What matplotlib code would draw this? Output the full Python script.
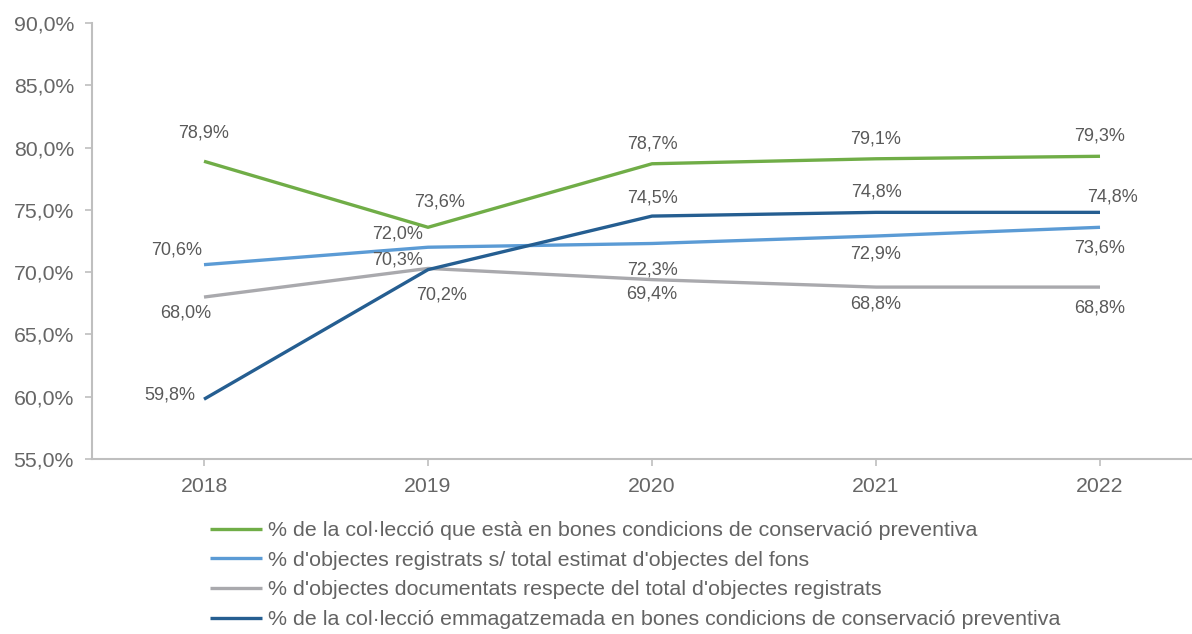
import matplotlib.pyplot as plt
from matplotlib.ticker import FuncFormatter

plt.rcParams['font.family'] = ['Liberation Sans', 'DejaVu Sans']

years = ['2018', '2019', '2020', '2021', '2022']
conservacio = [78.9, 73.6, 78.7, 79.1, 79.3]
registrats = [70.6, 72.0, 72.3, 72.9, 73.6]
documentats = [68.0, 70.3, 69.4, 68.8, 68.8]
emmagatzemada = [59.8, 70.2, 74.5, 74.8, 74.8]

names = [
    "% de la col·lecció que està en bones condicions de conservació preventiva",
    "% d'objectes registrats s/ total estimat d'objectes del fons",
    "% d'objectes documentats respecte del total d'objectes registrats",
    "% de la col·lecció emmagatzemada en bones condicions de conservació preventiva",
]
colors = ['#70AD47', '#5B9BD5', '#A9A9AD', '#255E91']

# label offsets in pixels (dx, dy) per point
offsets = [
    [(0, 28), (12, 25), (0, 20), (0, 20), (0, 20)],
    [(-27, 15), (-30, 13), (0, -27), (0, -18), (0, -21)],
    [(-18, -16), (-30, 8), (0, -14), (0, -17), (0, -21)],
    [(-34, 4), (14, -25), (0, 18), (0, 20), (12, 15)],
]

text_col = '#595959'
axis_col = '#BFBFBF'

fig = plt.figure(figsize=(11.92, 6.34), dpi=100)
ax = fig.add_axes([92 / 1192, (634 - 459) / 634, 1100 / 1192, 436 / 634])

x = list(range(len(years)))
series = [conservacio, registrats, documentats, emmagatzemada]
for vals, col, name, offs in zip(series, colors, names, offsets):
    ax.plot(x, vals, color=col, lw=2.4, label=name, solid_capstyle='butt')
    for xi, v, (dx, dy) in zip(x, vals, offs):
        ax.annotate(f'{v:.1f}%'.replace('.', ','), (xi, v), xytext=(dx, dy),
                    textcoords='offset pixels', ha='center', va='center',
                    fontsize=13, color=text_col)

ax.set_ylim(55, 90)
ax.set_yticks([55, 60, 65, 70, 75, 80, 85, 90])
ax.yaxis.set_major_formatter(FuncFormatter(lambda v, p: f'{v:.1f}%'.replace('.', ',')))
ax.set_xlim(-0.5, 4.5 - 20 / 224)
ax.set_xticks(x)
ax.set_xticklabels(years)

for s in ['top', 'right']:
    ax.spines[s].set_visible(False)
for s in ['left', 'bottom']:
    ax.spines[s].set_color(axis_col)
    ax.spines[s].set_linewidth(1.5)
ax.tick_params(axis='both', colors=axis_col, labelcolor='#666666', labelsize=15.3,
               length=5, width=1.2)
ax.tick_params(axis='x', pad=8)
ax.tick_params(axis='y', pad=8)

fig.legend(loc='upper left', bbox_to_anchor=(210 / 1192, 1 - 521 / 634),
           frameon=False, fontsize=15.4, labelcolor='#636363',
           handlelength=2.45, handletextpad=0.28, labelspacing=0.5,
           borderpad=0, borderaxespad=0)

fig.savefig('out.png', dpi=100)
